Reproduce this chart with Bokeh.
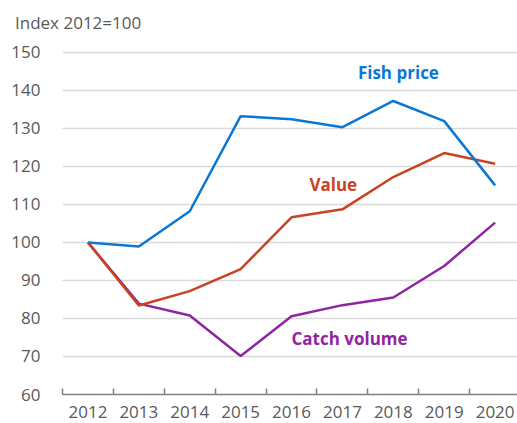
from bokeh.plotting import figure
from bokeh.models import Range1d, FixedTicker, Label, ColumnDataSource, Div
from bokeh.layouts import column
from bokeh.embed import file_html
from bokeh.resources import INLINE

years = ["2012", "2013", "2014", "2015", "2016", "2017", "2018", "2019", "2020"]
fish_price = [100, 98.9, 108.2, 133.2, 132.4, 130.3, 137.2, 131.9, 115.0]
value_idx = [100, 83.4, 87.2, 93.0, 106.6, 108.7, 117.2, 123.5, 120.7]
catch_volume = [100, 83.9, 80.8, 70.1, 80.6, 83.5, 85.5, 93.8, 105.2]
y_ticks = [60, 70, 80, 90, 100, 110, 120, 130, 140, 150]

FONT = "Open Sans"
GRAY = "#595959"
BLUE = "#0a78d2"
RED = "#c8431f"
PURPLE = "#8f25a2"

xs = list(range(len(years)))

div = Div(text="Index 2012=100", width=517, height=34, margin=(0, 0, 0, 0),
          styles={"font-family": FONT, "font-size": "17px", "color": GRAY,
                  "padding-left": "15px", "padding-top": "11px", "line-height": "24px",
                  "box-sizing": "border-box"})

p = figure(width=517, height=389, output_backend="svg", toolbar_location=None,
           x_range=Range1d(-0.5, 8.44), y_range=Range1d(60, 151),
           min_border_left=62, min_border_right=0, min_border_top=14, min_border_bottom=29,
           margin=(0, 0, 0, 0))
p.outline_line_color = None
p.background_fill_color = "white"
p.border_fill_color = "white"

# y axis
p.yaxis.ticker = FixedTicker(ticks=y_ticks)
p.yaxis.axis_line_color = None
p.yaxis.major_tick_line_color = None
p.yaxis.minor_tick_line_color = None
p.yaxis.major_label_text_font = FONT
p.yaxis.major_label_text_font_size = "17px"
p.yaxis.major_label_text_color = GRAY
p.yaxis.major_label_standoff = 16

# x axis: labels at centres, ticks at boundaries
p.xaxis.ticker = FixedTicker(ticks=xs, minor_ticks=[i - 0.5 for i in range(len(years) + 1)])
p.xaxis.major_label_overrides = {i: y for i, y in enumerate(years)}
p.xaxis.major_tick_line_color = None
p.xaxis.minor_tick_line_color = "#7f7f7f"
p.xaxis.minor_tick_line_width = 1.5
p.xaxis.minor_tick_in = 6
p.xaxis.minor_tick_out = 0
p.xaxis.axis_line_color = "#7f7f7f"
p.xaxis.axis_line_width = 1.5
p.xaxis.major_label_text_font = FONT
p.xaxis.major_label_text_font_size = "17px"
p.xaxis.major_label_text_color = GRAY
p.xaxis.major_label_standoff = 5

p.xgrid.grid_line_color = None
p.ygrid.ticker = FixedTicker(ticks=y_ticks[1:])
p.ygrid.grid_line_color = "#d9d9d9"
p.ygrid.grid_line_width = 1.5

src = ColumnDataSource(dict(x=xs, fish=fish_price, val=value_idx, catch=catch_volume))
p.line("x", "catch", source=src, line_color=PURPLE, line_width=2.5)
p.line("x", "val", source=src, line_color=RED, line_width=2.5)
p.line("x", "fish", source=src, line_color=BLUE, line_width=2.5)

for txt, x, y, c in [("Fish price", 6.1, 144.7, BLUE), ("Value", 4.82, 115.3, RED),
                     ("Catch volume", 5.14, 74.7, PURPLE)]:
    p.add_layout(Label(x=x, y=y, text=txt, text_color=c, text_font=FONT,
                       text_font_size="17px", text_font_style="bold",
                       text_align="center", text_baseline="middle"))

layout = column(div, p, spacing=0, margin=(0, 0, 0, 0))
open("out.html", "w").write(file_html(layout, INLINE))
